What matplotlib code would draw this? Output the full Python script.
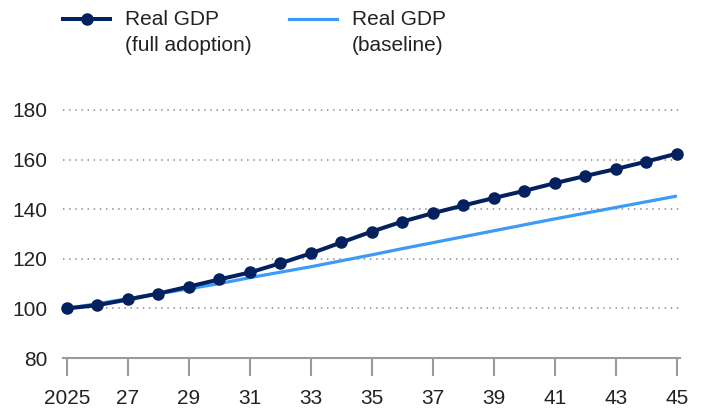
import matplotlib as mpl
import matplotlib.pyplot as plt
from matplotlib.lines import Line2D

years = list(range(2025, 2046))
full_adoption = [100.0, 101.3, 103.6, 106.0, 108.8, 111.7, 114.5, 118.2, 122.2, 126.6,
                 131.0, 135.0, 138.4, 141.5, 144.5, 147.4, 150.5, 153.4, 156.2, 159.2, 162.4]
baseline = [100.0, 101.9, 103.9, 105.9, 107.9, 110.0, 112.4, 114.6, 116.8, 119.2,
            121.6, 124.1, 126.5, 128.9, 131.3, 133.7, 136.1, 138.4, 140.7, 143.0, 145.3]
tick_years = [2025, 2027, 2029, 2031, 2033, 2035, 2037, 2039, 2041, 2043, 2045]
tick_labels = ["2025", "27", "29", "31", "33", "35", "37", "39", "41", "43", "45"]
y_ticks = [80, 100, 120, 140, 160, 180]

NAVY = "#03215f"
SKY = "#3d9bf5"
GREY = "#9a9a9a"
TEXT = "#222222"
FS = 15

mpl.rcParams.update({"font.family": ["Liberation Sans", "DejaVu Sans"], "font.size": FS})

W, H = 704, 411
fig = plt.figure(figsize=(W / 100, H / 100), dpi=100)
ax = fig.add_axes([63 / W, 53 / H, (680 - 63) / W, (358 - 105) / H])

ax.plot(years, baseline, color=SKY, lw=2.3, solid_capstyle="butt", zorder=3)
ax.plot(years, full_adoption, color=NAVY, lw=2.9, marker="o", ms=8,
        clip_on=False, zorder=4)

ax.set_xlim(2024.87, 2045.1)
ax.set_ylim(80, 182)

for y in y_ticks[1:]:
    ax.axhline(y, color=GREY, lw=1.3, dashes=(0.8, 2.6), zorder=1)

for side in ["top", "right", "left"]:
    ax.spines[side].set_visible(False)
ax.spines["bottom"].set_color(GREY)
ax.spines["bottom"].set_linewidth(1.5)

ax.set_xticks(tick_years)
ax.set_xticklabels(tick_labels)
ax.set_yticks(y_ticks)
ax.tick_params(axis="x", direction="out", length=13, width=1.5, color=GREY,
               pad=9, labelcolor=TEXT, labelsize=FS)
ax.tick_params(axis="y", length=0, pad=11, labelcolor=TEXT, labelsize=FS)

# legend drawn in figure pixels
def px(x, y):
    return x / W, 1 - y / H

x0, y0 = px(63, 19)
x1, _ = px(110, 19)
fig.add_artist(Line2D([x0, x1], [y0, y0], color=NAVY, lw=2.9))
fig.add_artist(Line2D([(x0 + x1) / 2], [y0], color=NAVY, marker="o", ms=8))
tx, ty = px(125, 10)
fig.text(tx, ty, "Real GDP\n(full adoption)", ha="left", va="top", color=TEXT,
         fontsize=FS, linespacing=1.45)

x0, _ = px(289, 19)
x1, _ = px(337, 19)
fig.add_artist(Line2D([x0, x1], [y0, y0], color=SKY, lw=2.3))
tx, _ = px(352, 10)
fig.text(tx, ty, "Real GDP\n(baseline)", ha="left", va="top", color=TEXT,
         fontsize=FS, linespacing=1.45)

fig.savefig("out.png", dpi=100)
